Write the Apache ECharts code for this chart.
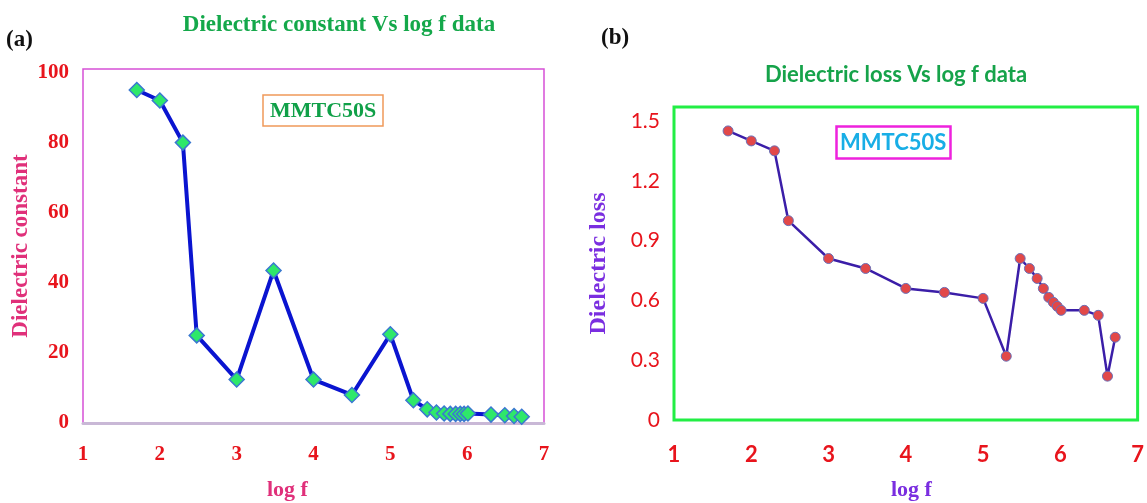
<!DOCTYPE html>
<html>
<head>
<meta charset="utf-8">
<script src="https://cdn.jsdelivr.net/npm/echarts@6/dist/echarts.min.js"></script>
<style>
  html, body { margin: 0; padding: 0; background: #ffffff; }
  #chart { width: 1147px; height: 503px; }
</style>
</head>
<body>
<div id="chart"></div>
<script>
// Frequency axis (log f) shared by both panels
const logF = [1.7, 2.0, 2.3, 2.48, 3.0, 3.48, 4.0, 4.5, 5.0, 5.3, 5.48, 5.6, 5.7, 5.78, 5.85, 5.91, 5.96, 6.01, 6.31, 6.49, 6.61, 6.71];
// Panel (a): dielectric constant
const dielectricConstant = [95, 92, 80, 25, 12.4, 43.5, 12.4, 8, 25.3, 6.5, 3.9, 3.0, 2.7, 2.6, 2.6, 2.6, 2.6, 2.7, 2.4, 2.2, 2.0, 1.8];
// Panel (b): dielectric loss
const dielectricLoss = [1.45, 1.40, 1.35, 1.0, 0.81, 0.76, 0.66, 0.64, 0.61, 0.32, 0.81, 0.76, 0.71, 0.66, 0.615, 0.59, 0.57, 0.55, 0.55, 0.525, 0.22, 0.415];
// Tick settings
const xTicks = { min: 1, max: 7, interval: 1 };
const constantTicks = { min: 0, max: 101, interval: 20 };
const lossTicks = { min: 0, max: 1.57, interval: 0.3 };

const pairs = (xs, ys) => xs.map((x, i) => [x, ys[i]]);

const serif = 'Liberation Serif';
const sans = 'Lato';
const red = '#e8141c';

const chart = echarts.init(document.getElementById('chart'));
chart.setOption({
  animation: false,
  backgroundColor: '#ffffff',
  title: [
    { text: 'Dielectric constant Vs log f data', left: 334, top: 9, textAlign: 'center',
      textStyle: { fontFamily: serif, fontWeight: 'bold', fontSize: 23, color: '#14a84a' } },
    { text: 'Dielectric loss Vs log f data', left: 891, top: 59, textAlign: 'center',
      textStyle: { fontFamily: sans, fontWeight: 'bold', fontSize: 22, color: '#16a34a' } },
    { text: 'MMTC50S', left: 263, top: 95, padding: [5, 7, 4, 7],
      borderColor: '#f0995a', borderWidth: 1.5,
      textStyle: { fontFamily: serif, fontWeight: 'bold', fontSize: 22, color: '#10a048' } },
    { text: 'MMTC50S', left: 836, top: 126, padding: [6, 4, 5, 4],
      borderColor: '#ee22dd', borderWidth: 2.5,
      textStyle: { fontFamily: sans, fontWeight: 'bold', fontSize: 22, color: '#18aee6' } }
  ],
  graphic: [
    { type: 'text', left: 6, top: 29, style: { text: '(a)', font: 'bold 23px "Liberation Serif"', fill: '#111' } },
    { type: 'text', left: 601, top: 27, style: { text: '(b)', font: 'bold 23px "Liberation Serif"', fill: '#111' } },
    { type: 'text', left: 267, top: 479, style: { text: 'log f', font: 'bold 22px "Liberation Serif"', fill: '#e0307a' } },
    { type: 'text', left: 891, top: 479, style: { text: 'log f', font: 'bold 22px "Liberation Serif"', fill: '#7a2ee0' } }
  ],
  grid: [
    { left: 83, top: 69, width: 461, height: 354, show: true, borderColor: '#d650d6', borderWidth: 1.5 },
    { left: 674, top: 107, width: 464, height: 313, show: true, borderColor: '#22ee44', borderWidth: 3 }
  ],
  xAxis: [
    { type: 'value', gridIndex: 0, ...xTicks,
      axisLine: { show: true, onZero: false, lineStyle: { color: '#c9b8d6', width: 3 } },
      axisTick: { show: false }, splitLine: { show: false },
      axisLabel: { margin: 21, fontFamily: serif, fontWeight: 'bold', fontSize: 21, color: red } },
    { type: 'value', gridIndex: 1, ...xTicks,
      axisLine: { show: false }, axisTick: { show: false }, splitLine: { show: false },
      axisLabel: { margin: 24, fontFamily: sans, fontWeight: 'bold', fontSize: 22, color: red } }
  ],
  yAxis: [
    { type: 'value', gridIndex: 0, ...constantTicks,
      name: 'Dielectric constant', nameLocation: 'middle', nameGap: 50,
      nameTextStyle: { fontFamily: serif, fontWeight: 'bold', fontSize: 23, color: '#e0307a' },
      axisLine: { show: false }, axisTick: { show: false }, splitLine: { show: false },
      axisLabel: { margin: 14, showMaxLabel: false, fontFamily: serif, fontWeight: 'bold', fontSize: 21, color: red } },
    { type: 'value', gridIndex: 1, ...lossTicks,
      name: 'Dielectric loss', nameLocation: 'middle', nameGap: 63,
      nameTextStyle: { fontFamily: serif, fontWeight: 'bold', fontSize: 24, color: '#7a2ee0' },
      axisLine: { show: false }, axisTick: { show: false }, splitLine: { show: false },
      axisLabel: { margin: 14, showMaxLabel: false, fontFamily: sans, fontSize: 21, color: red,
        formatter: v => (Math.round(v * 10) / 10).toString() } }
  ],
  series: [
    { type: 'line', xAxisIndex: 0, yAxisIndex: 0, data: pairs(logF, dielectricConstant),
      lineStyle: { color: '#0a14d0', width: 4 },
      symbol: 'diamond', symbolSize: 15,
      itemStyle: { color: '#2ee86a', borderColor: '#3a78d0', borderWidth: 1.5 } },
    { type: 'line', xAxisIndex: 1, yAxisIndex: 1, data: pairs(logF, dielectricLoss),
      lineStyle: { color: '#3b1ea8', width: 2.5 },
      symbol: 'circle', symbolSize: 10,
      itemStyle: { color: '#e24848', borderColor: '#6a70b8', borderWidth: 1 } }
  ]
});
</script>
</body>
</html>
